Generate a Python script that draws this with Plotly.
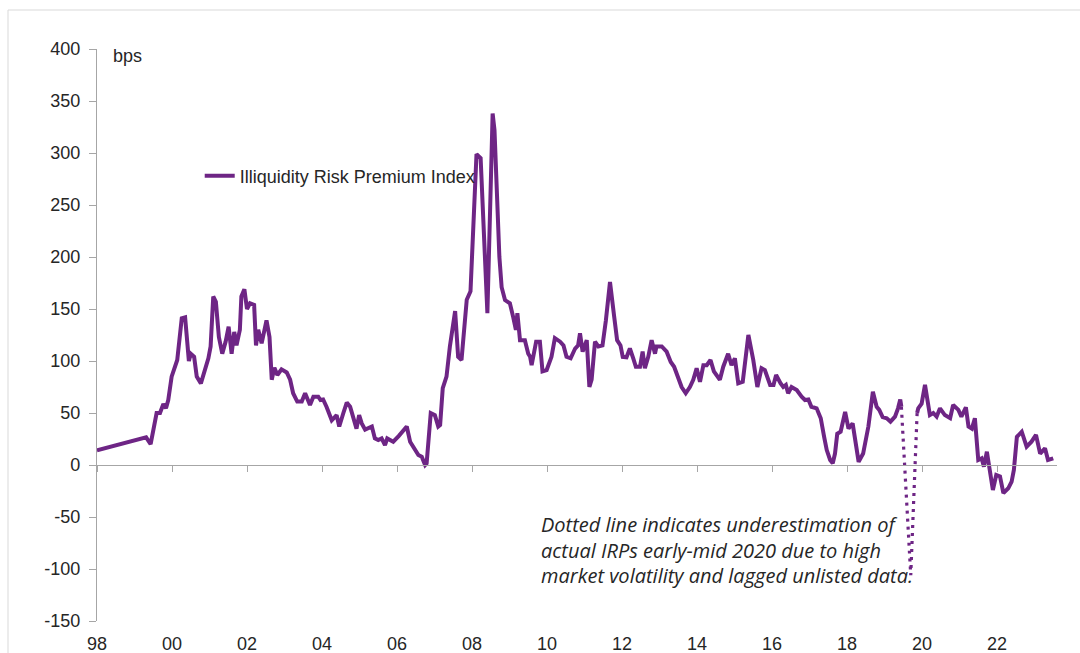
import plotly.graph_objects as go

# ---- data (decimal years, bps) ----
years_a = [1998.00, 1999.31, 1999.43, 1999.59, 1999.68, 1999.77, 1999.84, 1999.90, 1999.99, 2000.08,
           2000.14, 2000.26, 2000.35, 2000.45, 2000.50, 2000.59, 2000.66, 2000.77, 2000.97, 2001.03,
           2001.10, 2001.17, 2001.25, 2001.34, 2001.43, 2001.51, 2001.59, 2001.66, 2001.72, 2001.81,
           2001.85, 2001.93, 2002.00, 2002.08, 2002.19, 2002.24, 2002.30, 2002.39, 2002.52, 2002.60,
           2002.66, 2002.73, 2002.81, 2002.92, 2003.06, 2003.15, 2003.23, 2003.34, 2003.46, 2003.55,
           2003.68, 2003.77, 2003.90, 2003.96, 2004.03, 2004.12, 2004.26, 2004.39, 2004.46, 2004.57,
           2004.66, 2004.75, 2004.84, 2004.92, 2004.99, 2005.06, 2005.15, 2005.33, 2005.41, 2005.50,
           2005.59, 2005.68, 2005.74, 2005.90, 2006.05, 2006.26, 2006.35, 2006.43, 2006.57, 2006.66,
           2006.75, 2006.79, 2006.90, 2007.01, 2007.10, 2007.15, 2007.22, 2007.32, 2007.41, 2007.55,
           2007.63, 2007.72, 2007.86, 2007.96, 2008.12, 2008.23, 2008.41, 2008.55, 2008.60, 2008.73,
           2008.79, 2008.88, 2009.01, 2009.10, 2009.17, 2009.21, 2009.28, 2009.41, 2009.50, 2009.55,
           2009.59, 2009.71, 2009.81, 2009.88, 2009.99, 2010.12, 2010.21, 2010.35, 2010.44, 2010.52,
           2010.63, 2010.75, 2010.83, 2010.88, 2010.95, 2011.06, 2011.13, 2011.19, 2011.28, 2011.37,
           2011.48, 2011.57, 2011.68, 2011.79, 2011.87, 2011.96, 2012.02, 2012.12, 2012.21, 2012.30,
           2012.37, 2012.48, 2012.55, 2012.61, 2012.70, 2012.79, 2012.88, 2012.92, 2013.06, 2013.19,
           2013.30, 2013.39, 2013.50, 2013.59, 2013.70, 2013.81, 2013.90, 2013.99, 2014.08, 2014.17,
           2014.26, 2014.36, 2014.45, 2014.61, 2014.70, 2014.83, 2014.92, 2015.01, 2015.10, 2015.22,
           2015.37, 2015.50, 2015.61, 2015.72, 2015.81, 2015.95, 2016.04, 2016.11, 2016.23, 2016.30,
           2016.37, 2016.43, 2016.52, 2016.66, 2016.79, 2016.88, 2016.97, 2017.05, 2017.19, 2017.30,
           2017.39, 2017.46, 2017.55, 2017.62, 2017.68, 2017.74, 2017.83, 2017.95, 2018.04, 2018.15,
           2018.31, 2018.43, 2018.57, 2018.69, 2018.79, 2018.86, 2018.95, 2019.06, 2019.16, 2019.28,
           2019.36, 2019.42, 2019.45]
irp_a = [14, 26.6, 20, 50, 50, 58.6, 54.5, 62.5, 85, 94.5,
         101, 141, 142, 100, 107, 104, 85, 78.5, 102.6, 114,
         162, 157, 123, 107, 118.6, 133, 107, 128, 115, 130,
         162, 169, 150, 155.5, 154, 115, 130, 117, 139, 123,
         82, 93.6, 86.5, 92, 89, 82, 69, 61, 61, 69,
         57.7, 65.7, 65.7, 62.5, 63, 56, 43, 48, 37, 50,
         60, 56, 44, 35, 48, 40, 34, 37, 25.6, 24,
         25.6, 19, 25.6, 22.4, 28, 37, 22.4, 17.6, 9.6, 8,
         0, 1.6, 50, 48, 37, 38.5, 74, 85, 114, 148,
         104, 101, 159, 167, 299, 295, 146, 338, 322, 200,
         171, 158.6, 155.5, 142, 130, 146, 120, 120, 107, 104,
         96, 118.6, 118.6, 90, 91.3, 104, 122, 118.6, 115, 104,
         102.6, 112, 115, 126.6, 109, 120, 75, 82, 118.6, 114,
         115, 139, 176, 143, 120, 115, 104, 103.6, 112, 102.6,
         94.5, 94.5, 109, 93, 104, 120, 107, 114, 114, 109,
         99, 94.5, 85, 75, 69, 75, 82, 93, 80, 96,
         96, 101, 90, 82, 94.5, 107, 96, 102.6, 78.5, 80,
         125, 101, 75, 93, 91.3, 77, 77, 86.5, 78.5, 75,
         77, 69, 75, 72, 65.7, 62.5, 63, 56, 54.5, 45,
         27, 14.4, 4.8, 1.6, 11, 30, 32, 51, 35, 40,
         3, 11, 37, 70.5, 56, 53, 46, 45, 41.7, 46.5,
         54.5, 63, 56]

years_gap = [2019.45, 2019.70, 2019.87]
irp_gap = [56, -106, 50]

years_b = [2019.87, 2019.90, 2019.99, 2020.08, 2020.21, 2020.30, 2020.39, 2020.48, 2020.61, 2020.75,
           2020.83, 2020.97, 2021.05, 2021.17, 2021.24, 2021.33, 2021.41, 2021.50, 2021.59, 2021.65,
           2021.73, 2021.81, 2021.89, 2021.98, 2022.08, 2022.17, 2022.30, 2022.39, 2022.45, 2022.53,
           2022.66, 2022.79, 2022.92, 2023.04, 2023.15, 2023.28, 2023.36, 2023.50]
irp_b = [50, 54.5, 59, 77, 48, 50, 46.5, 54.5, 48, 45,
         57.7, 53, 46.5, 55.5, 37, 35, 45, 4.8, 6.4, -1.6,
         12.8, -4.8, -24, -9.6, -11, -27, -22.4, -16, -4.8, 27,
         32, 17.6, 22.4, 29, 11, 16, 4.8, 6.4]

tick_years = list(range(1998, 2023, 2))
tick_text = ["98", "00", "02", "04", "06", "08", "10", "12", "14", "16", "18", "20", "22"]
y_ticks = [-150, -100, -50, 0, 50, 100, 150, 200, 250, 300, 350, 400]
y_tick_text = ["-150", "-100", "-50", "0", "50", "100", "150", "200", "250", "300", "350", "400"]

note_lines = ["Dotted line indicates underestimation of",
              "actual IRPs early-mid 2020 due to high",
              "market volatility and lagged unlisted data."]

PURPLE = "#6E2585"
AXIS = "#a6a6a6"
TXT = "#262626"
FONT = "Liberation Sans, Arial, sans-serif"
X_RANGE = [1998, 2023.6]
Y_RANGE = [-150, 400]

fig = go.Figure()
fig.add_trace(go.Scatter(
    x=years_a + [None] + years_b, y=irp_a + [None] + irp_b,
    mode="lines", name="Illiquidity Risk Premium Index",
    line=dict(color=PURPLE, width=4), connectgaps=False,
))
fig.add_trace(go.Scatter(
    x=years_gap, y=irp_gap, mode="lines", showlegend=False,
    line=dict(color=PURPLE, width=3.2, dash="3px,5px"), xaxis="x2",
))

zero_pos = (0 - Y_RANGE[0]) / (Y_RANGE[1] - Y_RANGE[0])

fig.update_layout(
    width=1080, height=653, autosize=False,
    margin=dict(l=97, r=23, t=49, b=32, autoexpand=False),
    paper_bgcolor="white", plot_bgcolor="white",
    font=dict(family=FONT, size=18, color=TXT),
    xaxis=dict(range=X_RANGE, tickvals=tick_years, ticktext=tick_text,
               showline=False, showgrid=False, zeroline=False, ticks="",
               automargin=False, ticklabelstandoff=10,
               tickfont=dict(size=18, color=TXT)),
    xaxis2=dict(range=X_RANGE, overlaying="x", anchor="free", position=zero_pos,
                tickvals=tick_years, showticklabels=False, showline=True,
                linecolor=AXIS, linewidth=1.3, ticks="outside", ticklen=6,
                tickcolor=AXIS, tickwidth=1.3, showgrid=False, zeroline=False,
                automargin=False),
    yaxis=dict(range=Y_RANGE, tickvals=y_ticks, ticktext=y_tick_text, showline=True,
               linecolor=AXIS, linewidth=1.3, ticks="outside", ticklen=7,
               tickcolor=AXIS, tickwidth=1.3, showgrid=False, zeroline=False,
               automargin=False, ticklabelstandoff=5,
               tickfont=dict(size=18, color=TXT)),
    legend=dict(x=0.107, y=0.778, xanchor="left", yanchor="middle",
                bgcolor="rgba(0,0,0,0)", font=dict(size=18, color=TXT)),
    showlegend=True,
)

fig.add_annotation(text="bps", xref="paper", yref="paper", x=0.0146, y=0.988,
                   xanchor="left", yanchor="middle", showarrow=False,
                   font=dict(size=18, color=TXT, family=FONT))

note_y = [(621 - 524) / 572, (621 - 550) / 572, (621 - 575) / 572]
for line, yy in zip(note_lines, note_y):
    fig.add_annotation(text="<i>" + line + "</i>", xref="paper", yref="paper",
                       x=(539 - 97) / 960, y=yy, xanchor="left", yanchor="middle",
                       showarrow=False, font=dict(size=20, color=TXT, family="Open Sans"))

# outer chart border (left and top)
fig.add_shape(type="line", xref="paper", yref="paper", x0=-89 / 960, x1=-89 / 960,
              y0=1 + 39 / 572, y1=-32 / 572, line=dict(color="#d9d9d9", width=1))
fig.add_shape(type="line", xref="paper", yref="paper", x0=-89 / 960, x1=1 + 23 / 960,
              y0=1 + 39 / 572, y1=1 + 39 / 572, line=dict(color="#d9d9d9", width=1))

fig.write_html("out.html")
